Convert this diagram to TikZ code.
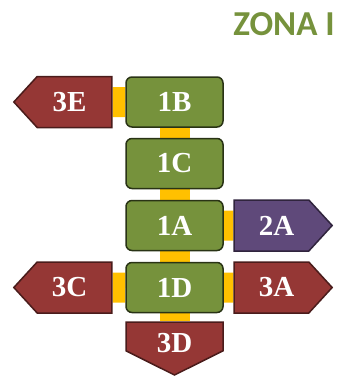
\documentclass[tikz,border=0pt]{standalone}
\usepackage{fontspec}
\setmainfont{Liberation Serif}
\newfontfamily\titlefont{Carlito}
\usetikzlibrary{shapes.symbols,backgrounds}
\definecolor{olivegreen}{HTML}{76923C}
\definecolor{darkred}{HTML}{953735}
\definecolor{darkpurple}{HTML}{5F497A}
\definecolor{linkyellow}{HTML}{FFC000}
\begin{document}
\begin{tikzpicture}[x=1pt, y=-1pt,
zonenode/.style={rounded corners=6pt, draw=olivegreen!35!black, fill=olivegreen, line width=1.5pt, minimum width=97pt, minimum height=50pt, inner sep=0pt, text=white, font=\fontsize{29}{29}\selectfont\bfseries},
signalnode/.style={signal, draw=#1!50!black, fill=#1, line width=1.5pt, minimum width=98pt, minimum height=51pt, inner sep=0pt, text=white, font=\fontsize{29}{29}\selectfont\bfseries},
link/.style={draw=linkyellow, line width=30pt},
]
\useasboundingbox (0,0) rectangle (347,376);
%Nodes
\node[text=olivegreen, font=\titlefont\fontsize{35}{35}\selectfont\bfseries] (title) at (284,24) {ZONA I};
\node[zonenode] (1B) at (174.5,102) {1B};
\node[zonenode] (1C) at (174.5,163.5) {1C};
\node[zonenode] (1A) at (174.5,225.5) {1A};
\node[zonenode] (1D) at (174.5,287.5) {1D};
\node[signalnode=darkred, signal to=west, signal pointer angle=95] (3E) at (74.5,102) {3E\hspace*{10pt}};
\node[signalnode=darkred, signal to=west, signal pointer angle=95] (3C) at (74.5,287.5) {3C\hspace*{10pt}};
\node[signalnode=darkpurple, signal to=east, signal pointer angle=95] (2A) at (271.5,225.5) {\hspace*{10pt}2A};
\node[signalnode=darkred, signal to=east, signal pointer angle=95] (3A) at (271.5,287.5) {\hspace*{10pt}3A};
\node[signalnode=darkred, signal to=south, signal pointer angle=127, minimum width=97pt, minimum height=37.5pt] (3D) at (174.5,336.5) {\raisebox{-16pt}[0pt][0pt]{3D}};

%Lines
\begin{scope}[on background layer]
\draw[link] (3E) -- (1B);
\draw[link] (1B) -- (1C);
\draw[link] (1C) -- (1A);
\draw[link] (1A) -- (2A);
\draw[link] (1A) -- (1D);
\draw[link] (3C) -- (1D);
\draw[link] (1D) -- (3A);
\draw[link] (1D) -- (3D);
\end{scope}
\end{tikzpicture}
\end{document}
